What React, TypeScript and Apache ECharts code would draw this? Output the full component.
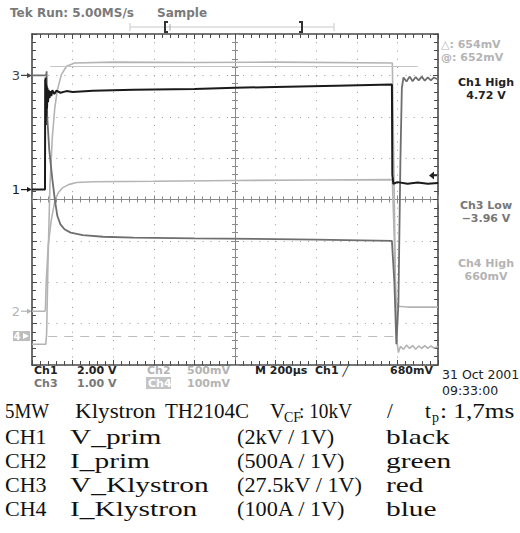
import React, { useEffect, useRef } from "react";
import * as echarts from "echarts";

// time in µs (200 µs / div), level in divisions from the bottom of the graticule
const ch1: number[][] = [
  [0, 4.24], [64, 4.24], [65, 6.9], [66, 6.1], [67, 6.95], [68, 5.8], [69, 6.8], [70, 6.0],
  [72, 6.75], [74, 6.2], [76, 6.7], [79, 6.35], [82, 6.65], [86, 6.45], [90, 6.62], [95, 6.5],
  [100, 6.64], [110, 6.55], [120, 6.63], [140, 6.58], [170, 6.62], [200, 6.6], [300, 6.63],
  [500, 6.65], [800, 6.67], [1000, 6.7], [1200, 6.72], [1500, 6.75], [1773, 6.78],
  [1775, 4.6], [1780, 4.38], [1800, 4.42], [1850, 4.38], [1900, 4.41], [1950, 4.38], [2000, 4.4],
];
const ch2: number[][] = [
  [0, 1.3], [64, 1.3], [66, 1.35], [70, 2.0], [80, 2.9], [95, 3.5], [113, 3.98], [130, 4.17],
  [150, 4.28], [180, 4.36], [220, 4.41], [300, 4.43], [600, 4.44], [1000, 4.46], [1400, 4.47],
  [1775, 4.48], [1785, 3.0], [1792, 1.6], [1800, 1.42], [1850, 1.4], [2000, 1.4],
];
const ch3: number[][] = [
  [0, 7.0], [70, 7.0], [72, 7.1], [75, 6.0], [85, 5.2], [100, 4.5], [113, 3.98], [125, 3.6],
  [140, 3.4], [160, 3.28], [190, 3.2], [250, 3.14], [350, 3.1], [500, 3.08], [800, 3.06],
  [1100, 3.05], [1400, 3.03], [1773, 3.0], [1785, 2.0], [1795, 0.5], [1805, 1.5], [1815, 5.0],
  [1822, 6.7], [1830, 6.95], [1845, 6.85], [1860, 6.97], [1875, 6.86], [1890, 6.96],
  [1905, 6.88], [1920, 6.97], [1935, 6.87], [1950, 6.95], [1965, 6.88], [1980, 6.95], [2000, 6.9],
];
const ch4: number[][] = [
  [0, 0.5], [68, 0.5], [72, 0.75], [78, 2.3], [88, 4.3], [100, 5.5], [112, 6.2], [125, 6.65],
  [145, 7.02], [170, 7.22], [210, 7.3], [400, 7.32], [800, 7.31], [1200, 7.32], [1775, 7.3],
  [1782, 5.0], [1790, 2.0], [1797, 0.6], [1805, 0.3], [1815, 0.45], [1830, 0.38], [1845, 0.48],
  [1860, 0.4], [1875, 0.47], [1890, 0.38], [1905, 0.46], [1920, 0.4], [1935, 0.47], [1950, 0.4],
  [1965, 0.46], [1980, 0.41], [2000, 0.44],
];
const cursorLevels = [7.23, 0.7];
const cursorSpans = [[90, 1900], [80, 1800]];
const markerLabels = ["3", "1", "2", "4"];
const markerLevels = [7.0, 4.24, 1.3, 0.7];
const triggerLevel = 4.58;

const textRows = [
  ["CH1", "V_prim", "(2kV / 1V)", "black"],
  ["CH2", "I_prim", "(500A / 1V)", "green"],
  ["CH3", "V_Klystron", "(27.5kV / 1V)", "red"],
  ["CH4", "I_Klystron", "(100A / 1V)", "blue"],
];

const C1 = "#1a1a1a";
const C3 = "#6e6e6e";
const CL = "#b4b4b4";
const BORDER = "#4a4a4a";
const SCOPE = '"DejaVu Sans", sans-serif';
const SERIF = '"Liberation Serif", "Times New Roman", serif';

export default function App() {
  const ref = useRef<HTMLDivElement>(null);
  useEffect(() => {
    if (!ref.current) return;
    const chart = echarts.init(ref.current, undefined, { renderer: "svg" });
    const G = { left: 32, top: 34, width: 406, height: 331 };
    const tick = (inside: boolean, color: string, len: number) => ({
      axisTick: { show: true, inside, length: len, lineStyle: { color, width: 1 } },
      minorTick: { show: true, splitNumber: 5, length: len - 1, lineStyle: { color, width: 1 } },
      axisLabel: { show: false },
    });
    const line = (name: string, data: number[][], color: string, width: number, z: number, extra: any = {}) => ({
      name, type: "line", data, xAxisIndex: 0, yAxisIndex: 0, showSymbol: false, symbol: "none",
      lineStyle: { color, width }, z, clip: true, ...extra,
    });
    const option: any = {
      animation: false,
      backgroundColor: "#fff",
      grid: [G, G, G, G, G].map((g) => ({ ...g })),
      xAxis: [
        { gridIndex: 0, type: "value", min: 0, max: 2000, interval: 200, position: "bottom",
          axisLine: { show: true, onZero: false, lineStyle: { color: BORDER, width: 1.6 } }, ...tick(true, BORDER, 5),
          splitLine: { show: true, lineStyle: { color: "#9a9a9a", width: 1, type: [1, 7.27] } } },
        { gridIndex: 0, type: "value", min: 0, max: 2000, interval: 200, position: "top",
          axisLine: { show: true, onZero: false, lineStyle: { color: BORDER, width: 1.6 } }, ...tick(true, BORDER, 5),
          splitLine: { show: false } },
        { gridIndex: 1, type: "value", min: -1000, max: 1000, interval: 200,
          axisLine: { show: true, onZero: true, lineStyle: { color: "#8a8a8a", width: 1 } }, ...tick(true, "#8a8a8a", 4),
          splitLine: { show: false } },
        { gridIndex: 2, type: "value", min: -1000, max: 1000, interval: 200,
          axisLine: { show: true, onZero: true, lineStyle: { color: "#8a8a8a", width: 1 } }, ...tick(false, "#8a8a8a", 4),
          splitLine: { show: false } },
        { gridIndex: 3, type: "value", min: -1000, max: 1000, show: false, axisLine: { onZero: false } },
        { gridIndex: 4, type: "value", min: -1000, max: 1000, show: false, axisLine: { onZero: false } },
      ],
      yAxis: [
        { gridIndex: 0, type: "value", min: 0, max: 8, interval: 1, position: "left",
          axisLine: { show: true, onZero: false, lineStyle: { color: BORDER, width: 1.6 } }, ...tick(true, BORDER, 5),
          splitLine: { show: true, lineStyle: { color: "#9a9a9a", width: 1, type: [1, 7.12] } } },
        { gridIndex: 0, type: "value", min: 0, max: 8, interval: 1, position: "right",
          axisLine: { show: true, onZero: false, lineStyle: { color: BORDER, width: 1.6 } }, ...tick(true, BORDER, 5),
          splitLine: { show: false } },
        { gridIndex: 1, type: "value", min: -4, max: 4, show: false, axisLine: { onZero: false } },
        { gridIndex: 2, type: "value", min: -4, max: 4, show: false, axisLine: { onZero: false } },
        { gridIndex: 3, type: "value", min: -4, max: 4, interval: 1,
          axisLine: { show: true, onZero: true, lineStyle: { color: "#8a8a8a", width: 1 } }, ...tick(true, "#8a8a8a", 4),
          splitLine: { show: false } },
        { gridIndex: 4, type: "value", min: -4, max: 4, interval: 1,
          axisLine: { show: true, onZero: true, lineStyle: { color: "#8a8a8a", width: 1 } }, ...tick(false, "#8a8a8a", 4),
          splitLine: { show: false } },
      ],
      series: [
        line("CH4", ch4, CL, 1.6, 2, {
          markLine: {
            silent: true, symbol: "none", label: { show: false },
            data: [
              [
                { coord: [cursorSpans[0][0], cursorLevels[0]], lineStyle: { color: "#c4c4c4", width: 1, type: "solid" } },
                { coord: [cursorSpans[0][1], cursorLevels[0]] },
              ],
              [
                { coord: [cursorSpans[1][0], cursorLevels[1]], lineStyle: { color: "#bdbdbd", width: 1.2, type: [9, 7] } },
                { coord: [cursorSpans[1][1], cursorLevels[1]] },
              ],
            ],
          },
        }),
        line("CH2", ch2, CL, 1.6, 3),
        line("CH3", ch3, C3, 1.8, 4),
        line("CH1", ch1, C1, 2, 5),
      ],
    };
    chart.setOption(option);

    const px = (t: number, v: number) => chart.convertToPixel({ gridIndex: 0 } as any, [t, v]) as number[];
    const txt = (text: string, x: number, y: number, fill: string, font: string, align = "left", extra: any = {}) => ({
      type: "text", x, y, silent: true, ...extra,
      style: { text, fill, font, align, verticalAlign: "middle", lineHeight: 11 },
    });
    const fB = `bold 11px ${SCOPE}`;
    const fH = `bold 12px ${SCOPE}`;
    const g: any[] = [];
    // header
    g.push(txt("Tek Run: 5.00MS/s", 10, 13, "#7a7a7a", fH));
    g.push(txt("Sample", 157, 13, "#7a7a7a", fH));
    g.push({ type: "line", silent: true, shape: { x1: 130, y1: 27, x2: 334, y2: 27 }, style: { stroke: "#c8c8c8", lineWidth: 1 } });
    g.push({ type: "line", silent: true, shape: { x1: 130, y1: 23, x2: 130, y2: 31 }, style: { stroke: "#c8c8c8", lineWidth: 1 } });
    g.push({ type: "line", silent: true, shape: { x1: 334, y1: 23, x2: 334, y2: 31 }, style: { stroke: "#c8c8c8", lineWidth: 1 } });
    g.push({ type: "polyline", silent: true, shape: { points: [[168, 22], [165, 22], [165, 32], [168, 32]] }, style: { stroke: "#333", lineWidth: 2, fill: null } });
    g.push({ type: "line", silent: true, shape: { x1: 170, y1: 24, x2: 170, y2: 31 }, style: { stroke: "#aaa", lineWidth: 1 } });
    g.push({ type: "polyline", silent: true, shape: { points: [[299, 22], [302, 22], [302, 32], [299, 32]] }, style: { stroke: "#333", lineWidth: 2, fill: null } });
    // left channel markers
    markerLabels.forEach((lab, i) => {
      const y = px(0, markerLevels[i])[1];
      const x0 = px(0, markerLevels[i])[0];
      const col = lab === "1" ? C1 : lab === "3" ? "#444" : CL;
      if (lab === "4") {
        g.push({ type: "rect", silent: true, shape: { x: x0 - 19, y: y - 5, width: 17, height: 10 }, style: { fill: "#bdbdbd" } });
        g.push(txt("4", x0 - 15, y, "#fff", `bold 10px ${SCOPE}`, "center"));
        g.push({ type: "polygon", silent: true, shape: { points: [[x0 - 9, y - 3], [x0 - 3, y], [x0 - 9, y + 3]] }, style: { fill: "#fff" } });
      } else {
        g.push(txt(lab, x0 - 12, y, col, `13px ${SCOPE}`, "right"));
        g.push({ type: "line", silent: true, shape: { x1: x0 - 11, y1: y, x2: x0 - 3, y2: y }, style: { stroke: col, lineWidth: 1.2 } });
        g.push({ type: "polygon", silent: true, shape: { points: [[x0 - 5, y - 2.5], [x0, y], [x0 - 5, y + 2.5]] }, style: { fill: col } });
      }
    });
    // trigger level arrow on the right edge
    {
      const [xr, yt] = px(2000, triggerLevel);
      g.push({ type: "polygon", silent: true, shape: { points: [[xr - 9, yt], [xr - 4, yt - 4], [xr - 4, yt + 4]] }, style: { fill: "#222" } });
      g.push({ type: "line", silent: true, shape: { x1: xr - 5, y1: yt, x2: xr - 1, y2: yt }, style: { stroke: "#222", lineWidth: 1.5 } });
    }
    // right side readouts
    g.push(txt("\u25B3: 654mV", 441, 44, CL, fB));
    g.push(txt("@: 652mV", 441, 57, CL, fB));
    g.push(txt("Ch1 High", 486, 82, "#222", fB, "center"));
    g.push(txt("4.72 V", 486, 95, "#222", fB, "center"));
    g.push(txt("Ch3 Low", 486, 205, "#777", fB, "center"));
    g.push(txt("\u22123.96 V", 486, 218, "#777", fB, "center"));
    g.push(txt("Ch4 High", 486, 263, CL, fB, "center"));
    g.push(txt("660mV", 486, 276, CL, fB, "center"));
    // bottom scope readouts
    g.push(txt("Ch1", 34, 370, "#222", fB));
    g.push(txt("2.00 V", 77, 370, "#222", fB));
    g.push(txt("Ch3", 34, 383, "#777", fB));
    g.push(txt("1.00 V", 77, 383, "#777", fB));
    g.push(txt("Ch2", 147, 370, CL, fB));
    g.push(txt("500mV", 187, 370, CL, fB));
    g.push({ type: "rect", silent: true, shape: { x: 146, y: 377, width: 25, height: 12 }, style: { fill: "#c4c4c4" } });
    g.push(txt("Ch4", 148, 383, "#fff", fB));
    g.push(txt("100mV", 187, 383, CL, fB));
    g.push(txt("M 200\u00B5s  Ch1 \u2571", 255, 370, "#222", fB));
    g.push(txt("680mV", 390, 370, "#222", fB));
    g.push(txt("31 Oct 2001", 442, 374, "#222", `12.5px ${SCOPE}`));
    g.push(txt("09:33:00", 442, 390, "#222", `12.5px ${SCOPE}`));
    // caption text block
    const fS = `21px ${SERIF}`;
    const fSub = `14px ${SERIF}`;
    const y0 = 411;
    const cap = (text: string, x: number, y: number, font: string, sx = 1) =>
      ({ ...txt(text, x, y, "#111", font), scaleX: sx, style: { text, fill: "#111", font, align: "left", verticalAlign: "middle" } });
    g.push(cap("5MW", 5, y0, fS, 0.9));
    g.push(cap("Klystron", 75, y0, fS, 1.1));
    g.push(cap("TH2104C", 165, y0, fS));
    g.push(cap("V", 270, y0, fS));
    g.push(cap("CF", 284, y0 + 6, fSub));
    g.push(cap(": 10kV", 299, y0, fS, 0.92));
    g.push(cap("/", 387, y0, fS));
    g.push(cap("t", 425, y0, fS));
    g.push(cap("p", 432, y0 + 6, fSub));
    g.push(cap(": 1,7ms", 440, y0, fS, 1.2));
    const colX = [5, 70, 237, 386];
    const colScale = [1.05, 1.4, 1.06, 1.4];
    const rowY = [437, 461, 485, 509];
    textRows.forEach((row, r) => {
      row.forEach((cell, c) => g.push(cap(cell, colX[c], rowY[r], fS, colScale[c])));
    });
    chart.setOption({ graphic: g });
    return () => chart.dispose();
  }, []);
  return <div ref={ref} style={{ position: "fixed", left: 0, top: 0, width: 520, height: 533 }} />;
}
